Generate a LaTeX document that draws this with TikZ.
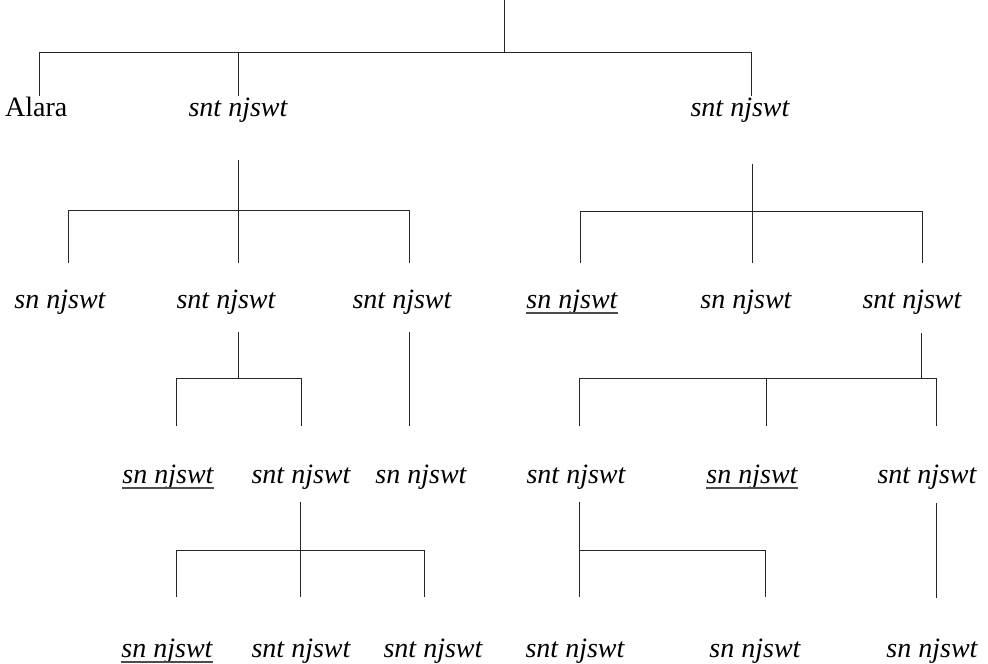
\documentclass[tikz,border=0pt]{standalone}
\usepackage{fontspec}
\setmainfont{Liberation Serif}
\begin{document}
\begin{tikzpicture}[x=1pt,y=-1pt,
  lbl/.style={anchor=base,inner sep=0pt,font=\fontsize{28}{32}\selectfont\itshape},
  up/.style={anchor=base west,inner sep=0pt,font=\fontsize{28}{32}\selectfont},
  ln/.style={line width=0.9pt,draw=black!85},
  ul/.style={line width=1.3pt,draw=black!70}]
\useasboundingbox[fill=white] (0,0) rectangle (988,664);

% ---------- labels ----------
% row 1
\node[up]  (a1) at (5,116)   {Alara};
\node[lbl] (a2) at (238,116) {snt njswt};
\node[lbl] (a3) at (740,116) {snt njswt};
% row 2
\node[lbl] (b1) at (60,308)  {sn njswt};
\node[lbl] (b2) at (226,308) {snt njswt};
\node[lbl] (b3) at (402,308) {snt njswt};
\node[lbl] (b4) at (572,308) {sn njswt};
\node[lbl] (b5) at (746,308) {sn njswt};
\node[lbl] (b6) at (912,308) {snt njswt};
% row 3
\node[lbl] (c1) at (168,483) {sn njswt};
\node[lbl] (c2) at (301,483) {snt njswt};
\node[lbl] (c3) at (421,483) {sn njswt};
\node[lbl] (c4) at (576,483) {snt njswt};
\node[lbl] (c5) at (752,483) {sn njswt};
\node[lbl] (c6) at (927,483) {snt njswt};
% row 4
\node[lbl] (d1) at (167,657) {sn njswt};
\node[lbl] (d2) at (301,657) {snt njswt};
\node[lbl] (d3) at (433,657) {snt njswt};
\node[lbl] (d4) at (575,657) {snt njswt};
\node[lbl] (d5) at (755,657) {sn njswt};
\node[lbl] (d6) at (932,657) {sn njswt};

% ---------- underlines ----------
\foreach \n in {b4,c1,c5,d1}
  \draw[ul] ([yshift=-5pt]\n.base west) -- ([yshift=-5pt]\n.base east);

% ---------- connectors ----------
% top level
\coordinate (top) at (504,0);
\coordinate (j0) at (504,52);
\coordinate (h0l) at (39,52);
\coordinate (h0m) at (238,52);
\coordinate (h0r) at (751,52);
\coordinate (e1) at (39,96);
\coordinate (e2) at (238,96);
\coordinate (e3) at (751,96);
\draw[ln] (top) -- (j0);
\draw[ln] (h0l) -- (h0r);
\draw[ln] (h0l) -- (e1);
\draw[ln] (h0m) -- (e2);
\draw[ln] (h0r) -- (e3);

% from a2
\coordinate (s2) at (238,160);
\coordinate (h2m) at (238,210);
\coordinate (h2l) at (68,210);
\coordinate (h2r) at (409,210);
\draw[ln] (s2) -- (h2m);
\draw[ln] (h2l) -- (h2r);
\draw[ln] (h2l) -- (68,263);
\draw[ln] (h2m) -- (238,263);
\draw[ln] (h2r) -- (409,263);

% from a3
\coordinate (s3) at (752,164);
\coordinate (h3m) at (752,211);
\coordinate (h3l) at (580,211);
\coordinate (h3r) at (922,211);
\draw[ln] (s3) -- (h3m);
\draw[ln] (h3l) -- (h3r);
\draw[ln] (h3l) -- (580,263);
\draw[ln] (h3m) -- (752,263);
\draw[ln] (h3r) -- (922,263);

% from b2
\coordinate (sb2) at (238,332);
\coordinate (hb2m) at (238,378);
\coordinate (hb2l) at (176,378);
\coordinate (hb2r) at (301,378);
\draw[ln] (sb2) -- (hb2m);
\draw[ln] (hb2l) -- (hb2r);
\draw[ln] (hb2l) -- (176,426);
\draw[ln] (hb2r) -- (301,426);

% from b3
\coordinate (sb3) at (409,332);
\coordinate (eb3) at (409,426);
\draw[ln] (sb3) -- (eb3);

% from b6
\coordinate (sb6) at (921,333);
\coordinate (hb6m) at (921,378);
\coordinate (hb6l) at (579,378);
\coordinate (hb6c) at (766,378);
\coordinate (hb6r) at (936,378);
\draw[ln] (sb6) -- (hb6m);
\draw[ln] (hb6l) -- (hb6r);
\draw[ln] (hb6l) -- (579,426);
\draw[ln] (hb6c) -- (766,426);
\draw[ln] (hb6r) -- (936,426);

% from c2
\coordinate (sc2) at (300,502);
\coordinate (ec2) at (300,597);
\coordinate (hc2l) at (176,550);
\coordinate (hc2r) at (424,550);
\draw[ln] (sc2) -- (ec2);
\draw[ln] (hc2l) -- (hc2r);
\draw[ln] (hc2l) -- (176,597);
\draw[ln] (hc2r) -- (424,597);

% from c4
\coordinate (sc4) at (579,502);
\coordinate (ec4) at (579,597);
\coordinate (hc4l) at (579,550);
\coordinate (hc4r) at (765,550);
\draw[ln] (sc4) -- (ec4);
\draw[ln] (hc4l) -- (hc4r);
\draw[ln] (hc4r) -- (765,597);

% from c6
\coordinate (sc6) at (936,503);
\coordinate (ec6) at (936,598);
\draw[ln] (sc6) -- (ec6);
\end{tikzpicture}
\end{document}
